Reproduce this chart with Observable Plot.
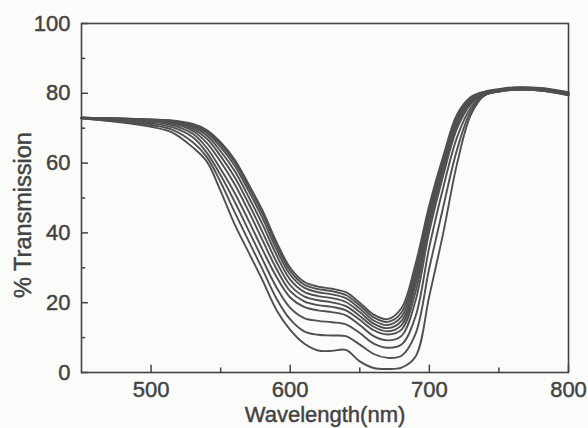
<!DOCTYPE html>
<html><head><meta charset="utf-8">
<script src="https://cdn.jsdelivr.net/npm/d3@7"></script>
<script src="https://cdn.jsdelivr.net/npm/@observablehq/plot@0.6"></script>
<style>
html,body{margin:0;padding:0;background:#fbfbfa;}
#chart{width:588px;height:428px;}
#chart svg text{stroke:#434343;stroke-width:0.45px;}
</style></head><body><div id="chart"></div>
<script>
const wavelength = [450,475,500,515,530,540,550,560,570,580,590,600,610,620,630,640,650,660,670,680,690,700,710,720,730,740,750,760,780,800];
const t0 = [73.0,72.8,72.5,72.2,71.2,69.5,66.0,61.0,54.0,46.5,37.5,30.0,26.0,24.6,24.0,23.0,20.0,16.6,15.3,18.5,31.0,48.0,62.0,74.0,79.0,80.5,81.2,81.7,81.5,80.3];
const t1 = [73.0,72.8,72.5,72.1,71.0,69.1,65.4,60.3,53.2,45.6,36.6,29.1,25.2,23.9,23.3,22.2,19.2,15.8,14.5,17.2,29.5,47.0,61.3,73.5,78.8,80.4,81.1,81.6,81.4,80.2];
const t2 = [73.0,72.8,72.4,72.0,70.7,68.6,64.6,59.3,52.1,44.3,35.4,28.0,24.3,23.0,22.4,21.3,18.3,14.9,13.6,16.0,28.0,46.0,60.5,73.0,78.5,80.3,81.0,81.5,81.3,80.1];
const t3 = [73.0,72.7,72.3,71.8,70.3,67.9,63.4,57.8,50.4,42.5,33.8,26.6,23.1,21.9,21.3,20.2,17.3,14.0,12.7,14.8,26.5,45.0,59.8,72.5,78.3,80.2,80.9,81.4,81.2,80.0];
const t4 = [73.0,72.7,72.2,71.6,69.8,67.0,62.0,56.0,48.5,40.3,31.8,25.0,21.8,20.7,20.1,19.0,16.2,13.1,11.8,13.6,25.0,44.0,59.0,72.0,78.0,80.0,80.8,81.3,81.1,79.9];
const t5 = [73.0,72.6,72.0,71.3,69.2,65.8,60.4,54.0,46.3,38.0,29.8,23.3,20.4,19.3,18.8,17.8,15.1,12.1,10.9,12.3,23.0,42.5,58.0,71.0,77.5,79.8,80.7,81.2,81.0,79.8];
const t6 = [72.9,72.5,71.8,70.9,68.4,64.4,58.3,51.5,43.6,35.3,27.5,21.5,18.8,17.8,17.3,16.4,13.6,10.4,9.2,10.5,20.5,40.5,56.5,70.0,77.0,79.6,80.6,81.1,80.9,79.7];
const t7 = [72.9,72.3,71.4,70.3,67.4,63.0,56.5,49.0,40.8,32.5,24.5,18.5,15.6,14.8,14.4,13.8,11.3,8.3,7.1,8.0,16.0,36.0,53.0,67.5,76.0,79.5,80.5,81.0,80.8,79.6];
const t8 = [72.8,72.0,70.9,69.6,66.0,61.8,54.5,46.0,37.8,29.6,21.3,15.2,11.8,10.8,10.6,10.4,8.0,5.3,4.2,4.8,11.0,30.0,47.5,64.0,75.0,79.5,80.5,81.0,80.8,79.5];
const t9 = [72.8,71.8,70.4,68.8,64.5,60.5,52.0,42.5,34.5,26.5,18.0,12.2,8.3,6.3,6.2,6.5,3.2,1.3,1.0,1.4,4.5,22.0,40.0,60.0,74.0,79.5,80.5,81.0,80.8,79.4];
const series = [t0,t1,t2,t3,t4,t5,t6,t7,t8,t9];
const xMajor = [500,600,700,800];
const xMinor = [550,650,750];
const yMajor = [0,20,40,60,80,100];
const yMinor = [10,30,50,70,90];
const xLabel = "Wavelength(nm)";
const yLabel = "% Transmission";

const rows = series.flatMap((s, i) => s.map((v, j) => ({w: wavelength[j], t: v, k: i})));
const ink = "#434343";

const chart = Plot.plot({
  width: 588, height: 428,
  marginLeft: 81, marginRight: 20, marginTop: 23, marginBottom: 56,
  style: {background: "transparent", fontFamily: "'Liberation Sans', Arial, sans-serif", fontSize: "22px", color: ink},
  x: {domain: [450, 800]},
  y: {domain: [0, 100]},
  marks: [
    Plot.line(rows, {x: "w", y: "t", z: "k", curve: "catmull-rom", stroke: "#505050", strokeWidth: 1.9}),
    Plot.frame({stroke: ink, strokeWidth: 1.6}),
    Plot.ruleX(xMajor, {x: d => d, y1: 0, y2: 2.1, stroke: ink, strokeWidth: 1.5}),
    Plot.ruleX(xMinor, {x: d => d, y1: 0, y2: 1.3, stroke: ink, strokeWidth: 1.5}),
    Plot.ruleY(yMajor, {y: d => d, x1: 450, x2: 455, stroke: ink, strokeWidth: 1.5}),
    Plot.ruleY(yMinor, {y: d => d, x1: 450, x2: 453, stroke: ink, strokeWidth: 1.5}),
    Plot.axisX(xMajor, {tickSize: 0, tickPadding: 9, label: null, fontSize: 22, fill: ink}),
    Plot.axisY(yMajor, {tickSize: 0, tickPadding: 11, label: null, fontSize: 22, fill: ink}),
    Plot.text([xLabel], {text: d => d, frameAnchor: "bottom", dy: 49.5, lineAnchor: "bottom", textAnchor: "middle", fontSize: 22, fill: ink}),
    Plot.text([yLabel], {text: d => d, frameAnchor: "left", dx: -51, dy: 17, rotate: -90, lineAnchor: "bottom", textAnchor: "middle", fontSize: 23.5, fill: ink})
  ]
});
document.getElementById("chart").appendChild(chart);
</script>
</body></html>
